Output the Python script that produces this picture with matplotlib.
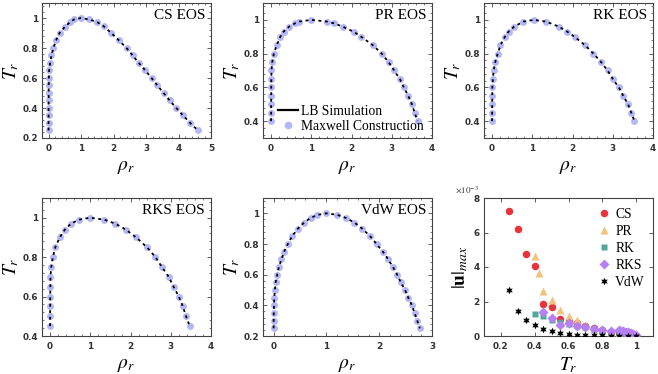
import numpy as np
import matplotlib
matplotlib.use('Agg')
import matplotlib.pyplot as plt
from matplotlib.lines import Line2D
from matplotlib.ticker import AutoMinorLocator, FuncFormatter

plt.rcParams['mathtext.fontset'] = 'stix'
plt.rcParams['font.family'] = 'DejaVu Sans'

# ---- coexistence curves (rho_r, T_r), left branch then right branch ----
cs_rho = [0.001, 0.001, 0.002, 0.003, 0.004, 0.005, 0.006, 0.01, 0.02, 0.05, 0.09, 0.15, 0.23, 0.34, 0.5, 0.65, 0.78, 1.0,
          1.25, 1.48, 1.70, 1.93, 2.17, 2.40, 2.59, 2.78, 2.98, 3.17, 3.35, 3.54, 3.73, 3.93, 4.14, 4.36, 4.6]
cs_T = [0.25, 0.3, 0.35, 0.4, 0.45, 0.5, 0.55, 0.6, 0.65, 0.7, 0.75, 0.8, 0.85, 0.9, 0.94, 0.97, 0.99, 1.0,
        0.99, 0.975, 0.945, 0.9, 0.85, 0.8, 0.75, 0.7, 0.65, 0.6, 0.55, 0.5, 0.45, 0.4, 0.35, 0.3, 0.25]

pr_rho = [0.001, 0.002, 0.003, 0.004, 0.005, 0.007, 0.01, 0.03, 0.07, 0.14, 0.23, 0.31, 0.45, 0.6, 0.7, 1.0,
          1.39, 1.56, 1.78, 2.05, 2.24, 2.53, 2.75, 2.92, 3.06, 3.2, 3.3, 3.41, 3.5, 3.57, 3.64]
pr_T = [0.4, 0.45, 0.5, 0.55, 0.6, 0.65, 0.7, 0.75, 0.8, 0.85, 0.9, 0.93, 0.96, 0.98, 0.99, 1.0,
        0.99, 0.98, 0.96, 0.93, 0.9, 0.85, 0.8, 0.75, 0.7, 0.65, 0.6, 0.55, 0.5, 0.45, 0.4]

rk_rho = [0.001, 0.002, 0.003, 0.005, 0.008, 0.02, 0.04, 0.08, 0.14, 0.21, 0.32, 0.41, 0.55, 0.78, 1.04,
          1.34, 1.66, 1.87, 2.05, 2.31, 2.52, 2.71, 2.87, 3.0, 3.15, 3.26, 3.38, 3.46, 3.54]
rk_T = [0.4, 0.45, 0.5, 0.55, 0.6, 0.65, 0.7, 0.75, 0.8, 0.85, 0.9, 0.93, 0.96, 0.99, 1.0,
        0.99, 0.96, 0.93, 0.9, 0.85, 0.8, 0.75, 0.7, 0.65, 0.6, 0.55, 0.5, 0.45, 0.4]

rks_rho = [0.001, 0.002, 0.003, 0.005, 0.007, 0.01, 0.03, 0.07, 0.13, 0.24, 0.37, 0.52, 0.72, 0.99,
           1.35, 1.62, 1.88, 2.14, 2.41, 2.62, 2.78, 2.95, 3.07, 3.2, 3.3, 3.38, 3.47]
rks_T = [0.45, 0.5, 0.55, 0.6, 0.65, 0.7, 0.75, 0.8, 0.85, 0.9, 0.94, 0.97, 0.99, 1.0,
         0.99, 0.97, 0.94, 0.9, 0.85, 0.8, 0.75, 0.7, 0.65, 0.6, 0.55, 0.5, 0.45]

vdw_rho = [0.001, 0.002, 0.004, 0.008, 0.013, 0.025, 0.04, 0.07, 0.1, 0.15, 0.2, 0.27, 0.35, 0.46, 0.58, 0.7, 0.83, 1.0,
           1.21, 1.37, 1.53, 1.68, 1.83, 1.95, 2.07, 2.17, 2.26, 2.34, 2.41, 2.49, 2.55, 2.62, 2.67, 2.72, 2.77]
vdw_T = [0.25, 0.3, 0.35, 0.4, 0.45, 0.5, 0.55, 0.6, 0.65, 0.7, 0.75, 0.8, 0.85, 0.9, 0.94, 0.97, 0.99, 1.0,
         0.99, 0.97, 0.94, 0.9, 0.85, 0.8, 0.75, 0.7, 0.65, 0.6, 0.55, 0.5, 0.45, 0.4, 0.35, 0.3, 0.25]

# ---- max spurious velocity (units of 1e-3) ----
cs_Tu = [0.25, 0.3, 0.35, 0.4, 0.45, 0.5, 0.55, 0.6, 0.65, 0.7, 0.75, 0.8, 0.85, 0.9, 0.92, 0.94, 0.96, 0.98, 1.0]
cs_u = [7.25, 6.2, 4.78, 4.04, 1.86, 1.7, 0.98, 0.88, 0.75, 0.6, 0.45, 0.35, 0.25, 0.18, 0.12, 0.08, 0.05, 0.03, 0.01]
pr_Tu = [0.4, 0.425, 0.45, 0.5, 0.55, 0.6, 0.65, 0.7, 0.75, 0.8, 0.85, 0.9, 0.95, 1.0]
pr_u = [4.65, 3.65, 2.58, 2.08, 1.5, 1.15, 0.9, 0.65, 0.45, 0.35, 0.25, 0.15, 0.08, 0.02]
rk_Tu = [0.4, 0.45, 0.5, 0.55, 0.6, 0.65, 0.7, 0.75, 0.8, 0.85, 0.9, 0.95, 1.0]
rk_u = [1.3, 1.15, 0.9, 0.8, 0.72, 0.6, 0.5, 0.38, 0.3, 0.25, 0.15, 0.08, 0.02]
rks_Tu = [0.45, 0.5, 0.55, 0.6, 0.65, 0.7, 0.75, 0.8, 0.85, 0.9, 0.91, 0.92, 0.93, 0.94, 0.95, 0.96, 0.97, 0.98, 0.99, 1.0]
rks_u = [1.4, 1.02, 0.65, 0.76, 0.6, 0.53, 0.42, 0.33, 0.3, 0.32, 0.3, 0.28, 0.26, 0.24, 0.21, 0.18, 0.15, 0.12, 0.08, 0.04]
vdw_Tu = [0.25, 0.3, 0.35, 0.4, 0.45, 0.5, 0.55, 0.6, 0.65, 0.7, 0.75, 0.8, 0.85, 0.9, 0.95, 1.0]
vdw_u = [2.65, 1.45, 0.9, 0.65, 0.43, 0.28, 0.2, 0.13, 0.08, 0.06, 0.04, 0.03, 0.02, 0.01, 0.005, 0.0]

LAV = '#b4b7f5'
TICK_C = '#333333'

fig = plt.figure(figsize=(6.58, 3.74), dpi=100)

W = 169 / 658
top_b, top_h = 1 - 138 / 374, 135 / 374
bot_b, bot_h = 1 - 336 / 374, 138 / 374
cols = [42 / 658, 263 / 658, 484 / 658]

fmt_g = FuncFormatter(lambda v, p: '%g' % round(v, 6))


def style(ax, minor=True):
    ax.tick_params(which='both', direction='in', top=True, right=True,
                   labelsize=6.4, labelcolor=TICK_C, color='#444444')
    ax.tick_params(axis='x', pad=4)
    ax.tick_params(axis='y', pad=3)
    ax.tick_params(which='major', length=3, width=0.6)
    ax.tick_params(which='minor', length=1.6, width=0.5)
    if minor:
        ax.xaxis.set_minor_locator(AutoMinorLocator(5))
        ax.yaxis.set_minor_locator(AutoMinorLocator(5))
    for lab in ax.get_xticklabels() + ax.get_yticklabels():
        lab.set_fontweight('bold')
    for s in ax.spines.values():
        s.set_linewidth(0.8)
        s.set_color('#444444')


def eos_panel(pos, rho, T, name, xlim, ylim, xt, yt):
    ax = fig.add_axes(pos)
    ax.plot(rho, T, 'o', color=LAV, ms=5.0, mec='none', zorder=2)
    ax.plot(rho, T, color='black', lw=1.3, ls=(0, (1.6, 2.0)), zorder=3)
    ax.set_xlim(*xlim)
    ax.set_ylim(*ylim)
    ax.set_xticks(xt)
    ax.set_yticks(yt)
    ax.xaxis.set_major_formatter(fmt_g)
    ax.yaxis.set_major_formatter(fmt_g)
    style(ax)
    ax.set_xlabel(r'$\rho_r$', fontsize=14)
    ax.set_ylabel(r'$T_r$', fontsize=14)
    ax.xaxis.set_label_coords(0.5, -0.14)
    ax.yaxis.set_label_coords(-0.125, 0.5)
    ax.text(0.965, 0.91, name, transform=ax.transAxes, ha='right', va='center',
            fontsize=11, family='Liberation Serif')
    return ax


eos_panel([cols[0], top_b, W, top_h], cs_rho, cs_T, 'CS EOS',
          (-0.2, 5), (0.2, 1.1), [0, 1, 2, 3, 4, 5], [0.2, 0.4, 0.6, 0.8, 1.0])
ax2 = eos_panel([cols[1], top_b, W, top_h], pr_rho, pr_T, 'PR EOS',
                (-0.2, 4), (0.3, 1.1), [0, 1, 2, 3, 4], [0.4, 0.6, 0.8, 1.0])
eos_panel([cols[2], top_b, W, top_h], rk_rho, rk_T, 'RK EOS',
          (-0.2, 4), (0.3, 1.1), [0, 1, 2, 3, 4], [0.4, 0.6, 0.8, 1.0])
eos_panel([cols[0], bot_b, W, bot_h], rks_rho, rks_T, 'RKS EOS',
          (-0.2, 4), (0.4, 1.1), [0, 1, 2, 3, 4], [0.4, 0.6, 0.8, 1.0])
eos_panel([cols[1], bot_b, W, bot_h], vdw_rho, vdw_T, 'VdW EOS',
          (-0.2, 3), (0.2, 1.1), [0, 1, 2, 3], [0.2, 0.4, 0.6, 0.8, 1.0])

handles = [Line2D([], [], color='black', lw=1.6),
           Line2D([], [], ls='none', marker='o', color=LAV, ms=5.5, mec='none')]
ax2.legend(handles, ['LB Simulation', 'Maxwell Construction'], loc='lower right',
           bbox_to_anchor=(1.0, -0.02), frameon=False,
           prop={'family': 'Liberation Serif', 'size': 9.8},
           handlelength=1.5, handletextpad=0.2, labelspacing=0.1, borderaxespad=0.2)

# ---- velocity panel ----
ax6 = fig.add_axes([cols[2], bot_b, W, bot_h])
ax6.plot(cs_Tu, cs_u, 'o', color='#e8333b', ms=5.4, mec='none', label='CS', zorder=2)
ax6.plot(pr_Tu, pr_u, '^', color='#f4c27c', ms=6.0, mec='none', label='PR', zorder=3)
ax6.plot(rk_Tu, rk_u, 's', color='#4fa89a', ms=4.8, mec='none', label='RK', zorder=4)
ax6.plot(rks_Tu, rks_u, 'D', color='#b67ff2', ms=5.0, mec='none', label='RKS', zorder=5)
ax6.plot(vdw_Tu, vdw_u, marker=(6, 1, 0), ls='none', color='black', ms=5.5, mec='none',
         label='VdW', zorder=6)
ax6.set_xlim(0.1, 1.1)
ax6.set_ylim(0, 8)
ax6.set_xticks([0.2, 0.4, 0.6, 0.8, 1.0])
ax6.set_yticks([0, 2, 4, 6, 8])
ax6.xaxis.set_major_formatter(fmt_g)
ax6.yaxis.set_major_formatter(fmt_g)
style(ax6, minor=False)
ax6.text(-0.17, 1.025, r'$\times10^{-3}$', transform=ax6.transAxes, ha='left', va='bottom',
         fontsize=6.5, color=TICK_C)
ax6.set_xlabel(r'$T_r$', fontsize=14)
ax6.set_ylabel(r'$|\mathbf{u}|_{max}$', fontsize=14)
ax6.xaxis.set_label_coords(0.5, -0.14)
ax6.yaxis.set_label_coords(-0.08, 0.5)
ax6.legend(loc='upper right', bbox_to_anchor=(1.0, 0.99), frameon=False,
           prop={'family': 'Liberation Serif', 'size': 9.8},
           handlelength=0.8, handletextpad=0.45, labelspacing=0.3, borderaxespad=0.2)

fig.savefig('out.png', dpi=100)
